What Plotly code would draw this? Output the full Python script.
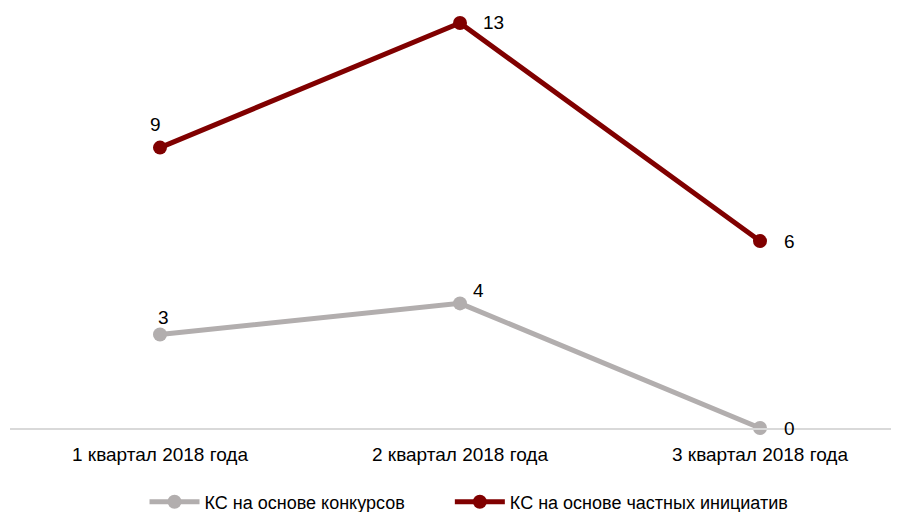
import plotly.graph_objects as go

categories = ["1 квартал 2018 года", "2 квартал 2018 года", "3 квартал 2018 года"]
series_contest = [3, 4, 0]
series_private = [9, 13, 6]
name_contest = "КС на основе конкурсов"
name_private = "КС на основе частных инициатив"

FONT = "Liberation Sans Narrow, Arial Narrow, Liberation Sans, Arial, sans-serif"
gray = "#b2aeae"
red = "#800000"
FS = 19

fig = go.Figure()
fig.add_trace(go.Scatter(
    x=categories, y=series_contest, name=name_contest, mode="lines+markers",
    line=dict(color=gray, width=5), marker=dict(color=gray, size=14),
    cliponaxis=False, legend="legend",
))
fig.add_trace(go.Scatter(
    x=categories, y=series_private, name=name_private, mode="lines+markers",
    line=dict(color=red, width=5), marker=dict(color=red, size=14),
    cliponaxis=False, legend="legend2",
))

# data labels (offsets in pixels)
shifts_contest = [(3, 17), (18, 13), (29, 0)]
shifts_private = [(-5, 23), (33, 1), (29, 0)]
for cat, v, (dx, dy) in zip(categories, series_contest, shifts_contest):
    fig.add_annotation(x=cat, y=v, text=str(v), showarrow=False, xshift=dx, yshift=dy,
                       font=dict(size=FS, color="#000000", family=FONT))
for cat, v, (dx, dy) in zip(categories, series_private, shifts_private):
    fig.add_annotation(x=cat, y=v, text=str(v), showarrow=False, xshift=dx, yshift=dy,
                       font=dict(size=FS, color="#000000", family=FONT))

legend_common = dict(orientation="h", y=-0.183, yanchor="middle", xanchor="left",
                     font=dict(size=18), itemwidth=50, bgcolor="rgba(0,0,0,0)")

fig.update_layout(
    width=899, height=512,
    margin=dict(l=2, r=12, t=15, b=92, autoexpand=False),
    paper_bgcolor="white", plot_bgcolor="white",
    font=dict(family=FONT, size=FS, color="#000000"),
    showlegend=True,
    legend=dict(x=0.152, **legend_common),
    legend2=dict(x=0.497, **legend_common),
    xaxis=dict(type="category", range=[-0.5, 2.45], showgrid=False, automargin=False,
               showline=True, linecolor="#d9d9d9", linewidth=2, ticklabelstandoff=8,
               ticks="", tickfont=dict(size=FS), zeroline=False),
    yaxis=dict(range=[0, 13], visible=False, showgrid=False, zeroline=False, automargin=False),
)

fig.write_html("out.html")
